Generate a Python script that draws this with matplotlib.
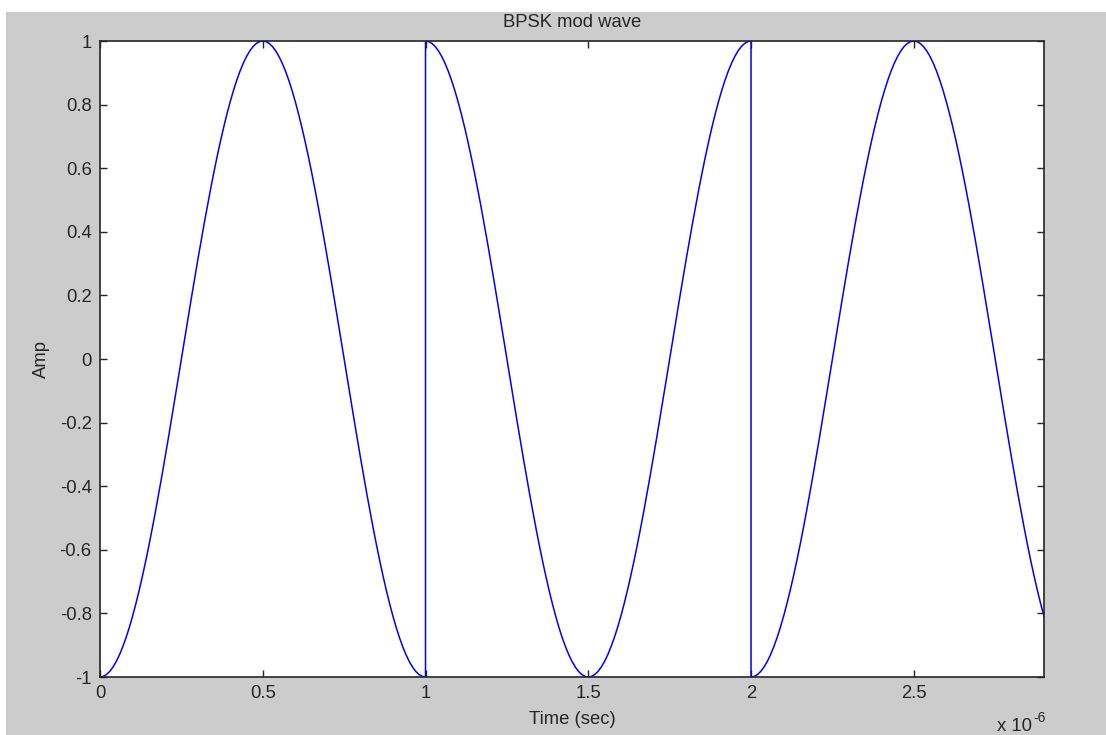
import numpy as np
import matplotlib
matplotlib.use("Agg")
import matplotlib.pyplot as plt
from matplotlib.patches import Rectangle

# ---- data ----
bits = [0, 1, 0]                # BPSK bits (0 -> -cos, 1 -> +cos)
carrier_freq = 1e6              # Hz
bit_period = 1e-6               # s
samples_per_bit = 100
x_max = 2.9e-6                  # end of plotted time range
x_ticks = [0, 0.5, 1, 1.5, 2, 2.5]
x_tick_labels = ["0", "0.5", "1", "1.5", "2", "2.5"]
y_ticks = [-1, -0.8, -0.6, -0.4, -0.2, 0, 0.2, 0.4, 0.6, 0.8, 1]
y_tick_labels = ["-1", "-0.8", "-0.6", "-0.4", "-0.2", "0", "0.2", "0.4", "0.6", "0.8", "1"]
title = "BPSK mod wave"
xlabel = "Time (sec)"
ylabel = "Amp"

# build modulated waveform from the bits
t_all, s_all = [], []
for i, b in enumerate(bits):
    tb = np.linspace(0, bit_period, samples_per_bit + 1)
    sign = 1.0 if b == 1 else -1.0
    t_all.append(tb + i * bit_period)
    s_all.append(sign * np.cos(2 * np.pi * carrier_freq * tb))
t = np.concatenate(t_all)
s = np.concatenate(s_all)
mask = t <= x_max + 1e-12
t, s = t[mask], s[mask]

plt.rcParams['font.family'] = ['Liberation Sans', 'DejaVu Sans']
W, H = 1106, 735
fig = plt.figure(figsize=(W / 100, H / 100), dpi=100, facecolor="white")
fig.patches.append(Rectangle((6 / W, 0), 1 - 6 / W, 1 - 12 / H, transform=fig.transFigure,
                             facecolor="#cccccc", edgecolor="none", zorder=-10))

TXT = "#262626"
FS = 13.3
left, right, top, bottom = 100, 1044, 41, 677
ax = fig.add_axes([left / W, 1 - bottom / H, (right - left) / W, (bottom - top) / H])
ax.set_facecolor("white")
ax.plot(t * 1e6, s, color="#0000ff", lw=1.1)
ax.set_xlim(0, x_max * 1e6)
ax.set_ylim(-1, 1)
ax.set_xticks(x_ticks)
ax.set_xticklabels(x_tick_labels)
ax.set_yticks(y_ticks)
ax.set_yticklabels(y_tick_labels)
ax.tick_params(direction="in", length=5, width=1, top=True, right=True,
               labelsize=FS, colors=TXT, pad=6)
for sp in ax.spines.values():
    sp.set_color(TXT)
    sp.set_linewidth(1.2)
ax.set_title(title, fontsize=FS, color=TXT, pad=10)
ax.set_xlabel(xlabel, fontsize=FS, color=TXT, labelpad=6)
ax.set_ylabel(ylabel, fontsize=FS, color=TXT, labelpad=7)
fig.text(1032 / W, 1 - 731 / H, "x 10", ha="right", va="baseline",
         fontsize=FS, color=TXT)
fig.text(1033 / W, 1 - 722 / H, "-6", ha="left", va="baseline",
         fontsize=10, color=TXT)

fig.savefig("out.png", dpi=100, facecolor=fig.get_facecolor())
